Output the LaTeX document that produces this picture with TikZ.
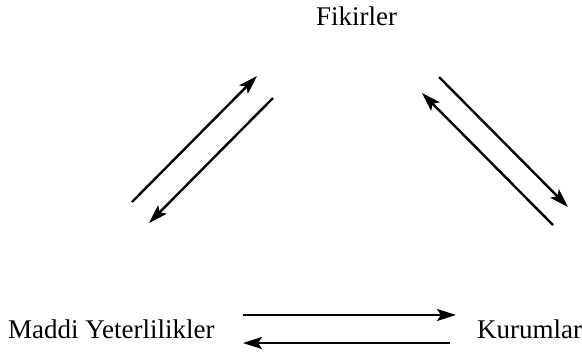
\documentclass[tikz,border=0pt]{standalone}
\usepackage{fontspec}
\setmainfont{Liberation Serif}
\usetikzlibrary{arrows.meta}
\begin{document}
\begin{tikzpicture}[x=1pt,y=-1pt,
  lbl/.style={anchor=base west,inner sep=0pt,font=\fontsize{27}{31}\selectfont},
  arr/.style={line width=2.4pt,-{Stealth[length=19pt,width=12pt,inset=4pt]}}]
\useasboundingbox (0,0) rectangle (582,354);
\node[lbl] (fik) at (316,25) {Fikirler};
\node[lbl] (mad) at (8,338) {Maddi Yeterlilikler};
\node[lbl] (kur) at (477,338) {Kurumlar};
\coordinate (a1s) at (132,202); \coordinate (a1e) at (257,76);
\coordinate (a2s) at (273,98);  \coordinate (a2e) at (149,223);
\coordinate (b1s) at (439,77);  \coordinate (b1e) at (568,207);
\coordinate (b2s) at (553,225); \coordinate (b2e) at (422,93);
\coordinate (c1s) at (243,315); \coordinate (c1e) at (456,315);
\coordinate (c2s) at (450,343); \coordinate (c2e) at (243,343);
\draw[arr] (a1s) -- (a1e);
\draw[arr] (a2s) -- (a2e);
\draw[arr] (b1s) -- (b1e);
\draw[arr] (b2s) -- (b2e);
\draw[arr] (c1s) -- (c1e);
\draw[arr] (c2s) -- (c2e);
\end{tikzpicture}
\end{document}
